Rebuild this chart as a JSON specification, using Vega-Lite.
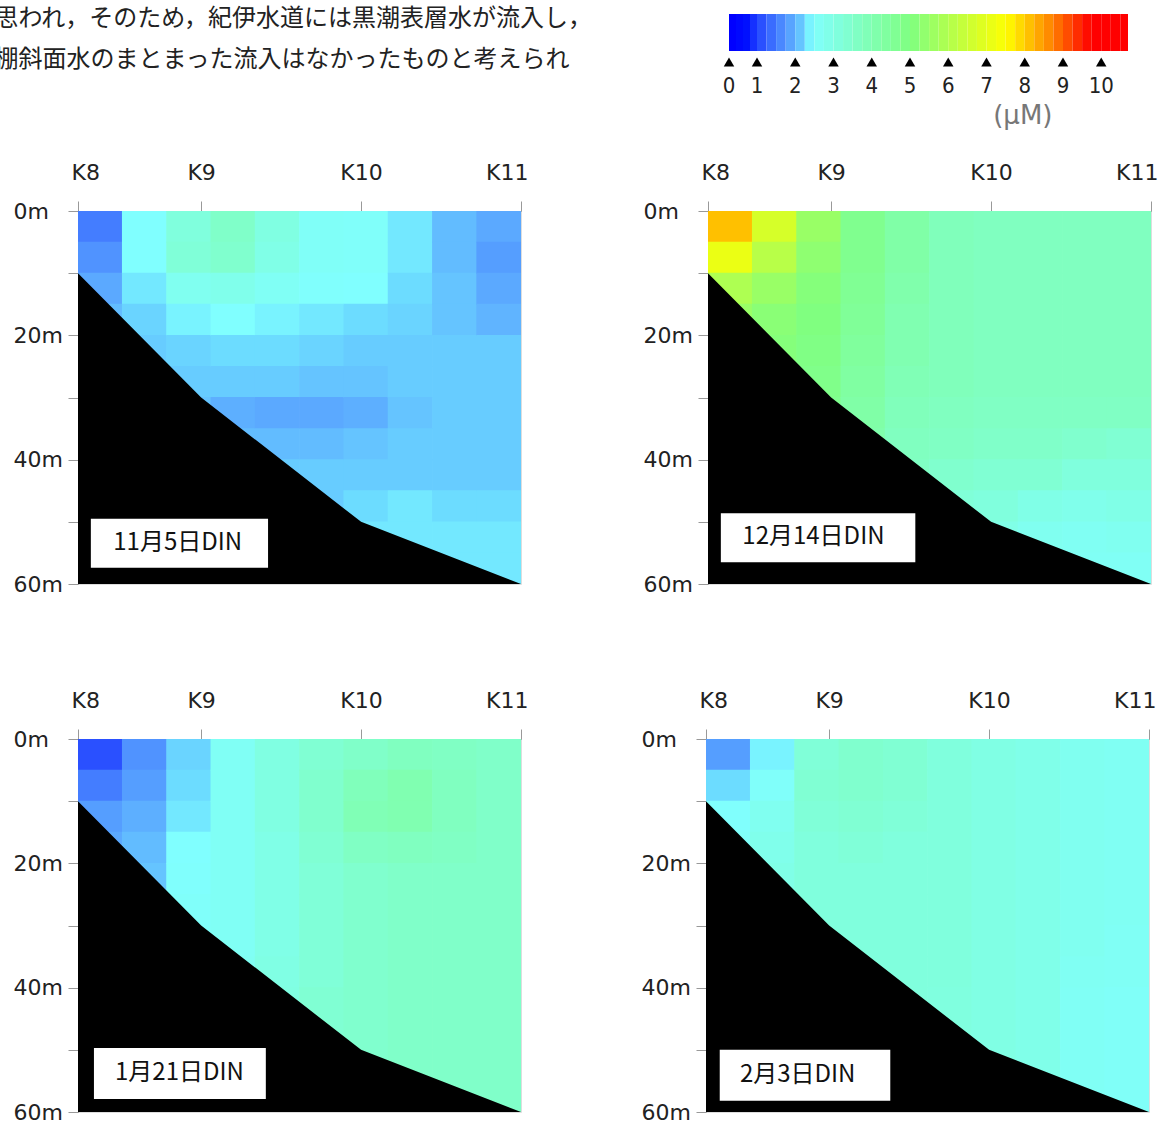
{
  "$schema": "https://vega.github.io/schema/vega-lite/v6.json",
  "padding": {"left": -6, "top": 6, "right": 0, "bottom": 0},
  "config": {
    "view": {"stroke": "#dddddd"},
    "axis": {"domainColor": "#999999", "tickColor": "#999999", "labelColor": "#222222", "labelFont": "DejaVu Sans", "labelFontSize": 22, "grid": false},
    "axisY": {"labelFontSize": 22}
  },
  "title": {
    "text": ["思われ，そのため，紀伊水道には黒潮表層水が流入し，", "棚斜面水のまとまった流入はなかったものと考えられ"],
    "anchor": "start", "frame": "bounds", "dx": -18, "baseline": "top",
    "font": "Noto Sans CJK JP", "fontSize": 24, "fontWeight": "normal", "color": "#222222",
    "lineHeight": 41, "offset": -66
  },
  "datasets": {
    "seabed": [{"x": 0, "d": 10}, {"x": 2.78, "d": 30}, {"x": 6.39, "d": 50}, {"x": 10, "d": 60}],
    "panels": [{"p": 1, "label": "11月5日DIN"}, {"p": 2, "label": "12月14日DIN"}, {"p": 3, "label": "1月21日DIN"}, {"p": 4, "label": "2月3日DIN"}],
    "ticks": [{"v": 0}, {"v": 1}, {"v": 2}, {"v": 3}, {"v": 4}, {"v": 5}, {"v": 6}, {"v": 7}, {"v": 8}, {"v": 9}, {"v": 10}],
    "grad": [
      {"a": 0, "b": 0.25}, {"a": 0.25, "b": 0.5}, {"a": 0.5, "b": 0.75}, {"a": 0.75, "b": 1}, {"a": 1, "b": 1.25}, {"a": 1.25, "b": 1.5}, {"a": 1.5, "b": 1.75}, {"a": 1.75, "b": 2}, {"a": 2, "b": 2.25}, {"a": 2.25, "b": 2.5}, {"a": 2.5, "b": 2.75}, {"a": 2.75, "b": 3}, {"a": 3, "b": 3.25}, {"a": 3.25, "b": 3.5}, {"a": 3.5, "b": 3.75}, {"a": 3.75, "b": 4}, {"a": 4, "b": 4.25}, {"a": 4.25, "b": 4.5}, {"a": 4.5, "b": 4.75}, {"a": 4.75, "b": 5}, {"a": 5, "b": 5.25}, {"a": 5.25, "b": 5.5}, {"a": 5.5, "b": 5.75}, {"a": 5.75, "b": 6}, {"a": 6, "b": 6.25}, {"a": 6.25, "b": 6.5}, {"a": 6.5, "b": 6.75}, {"a": 6.75, "b": 7}, {"a": 7, "b": 7.25}, {"a": 7.25, "b": 7.5}, {"a": 7.5, "b": 7.75}, {"a": 7.75, "b": 8}, {"a": 8, "b": 8.25}, {"a": 8.25, "b": 8.5}, {"a": 8.5, "b": 8.75}, {"a": 8.75, "b": 9}, {"a": 9, "b": 9.25}, {"a": 9.25, "b": 9.5}, {"a": 9.5, "b": 9.75}, {"a": 9.75, "b": 10}, {"a": 10, "b": 10.25}, {"a": 10.25, "b": 10.5}, {"a": 10.5, "b": 10.7}
    ],
    "cells": [
      {"p":1,"x":0.5,"d":2.5,"v":1.4},{"p":1,"x":0.5,"d":7.5,"v":1.6},{"p":1,"x":0.5,"d":12.5,"v":1.8},{"p":1,"x":0.5,"d":17.5,"v":1.95},
      {"p":1,"x":1.5,"d":2.5,"v":2.3},{"p":1,"x":1.5,"d":7.5,"v":2.3},{"p":1,"x":1.5,"d":12.5,"v":2.2},{"p":1,"x":1.5,"d":17.5,"v":2.1},{"p":1,"x":1.5,"d":22.5,"v":2.05},
      {"p":1,"x":2.5,"d":2.5,"v":3.0},{"p":1,"x":2.5,"d":7.5,"v":3.1},{"p":1,"x":2.5,"d":12.5,"v":2.6},{"p":1,"x":2.5,"d":17.5,"v":2.25},{"p":1,"x":2.5,"d":22.5,"v":2.1},{"p":1,"x":2.5,"d":27.5,"v":2.05},{"p":1,"x":2.5,"d":32.5,"v":2.0},
      {"p":1,"x":3.5,"d":2.5,"v":3.4},{"p":1,"x":3.5,"d":7.5,"v":3.3},{"p":1,"x":3.5,"d":12.5,"v":2.7},{"p":1,"x":3.5,"d":17.5,"v":2.3},{"p":1,"x":3.5,"d":22.5,"v":2.15},{"p":1,"x":3.5,"d":27.5,"v":2.05},{"p":1,"x":3.5,"d":32.5,"v":1.85},{"p":1,"x":3.5,"d":37.5,"v":1.95},
      {"p":1,"x":4.5,"d":2.5,"v":2.9},{"p":1,"x":4.5,"d":7.5,"v":2.8},{"p":1,"x":4.5,"d":12.5,"v":2.5},{"p":1,"x":4.5,"d":17.5,"v":2.25},{"p":1,"x":4.5,"d":22.5,"v":2.15},{"p":1,"x":4.5,"d":27.5,"v":2.05},{"p":1,"x":4.5,"d":32.5,"v":1.8},{"p":1,"x":4.5,"d":37.5,"v":1.95},{"p":1,"x":4.5,"d":42.5,"v":2.05},
      {"p":1,"x":5.5,"d":2.5,"v":2.45},{"p":1,"x":5.5,"d":7.5,"v":2.45},{"p":1,"x":5.5,"d":12.5,"v":2.35},{"p":1,"x":5.5,"d":17.5,"v":2.2},{"p":1,"x":5.5,"d":22.5,"v":2.1},{"p":1,"x":5.5,"d":27.5,"v":2.0},{"p":1,"x":5.5,"d":32.5,"v":1.8},{"p":1,"x":5.5,"d":37.5,"v":1.95},{"p":1,"x":5.5,"d":42.5,"v":2.05},{"p":1,"x":5.5,"d":47.5,"v":2.05},
      {"p":1,"x":6.5,"d":2.5,"v":2.4},{"p":1,"x":6.5,"d":7.5,"v":2.4},{"p":1,"x":6.5,"d":12.5,"v":2.3},{"p":1,"x":6.5,"d":17.5,"v":2.15},{"p":1,"x":6.5,"d":22.5,"v":2.05},{"p":1,"x":6.5,"d":27.5,"v":2.0},{"p":1,"x":6.5,"d":32.5,"v":1.85},{"p":1,"x":6.5,"d":37.5,"v":2.0},{"p":1,"x":6.5,"d":42.5,"v":2.05},{"p":1,"x":6.5,"d":47.5,"v":2.15},{"p":1,"x":6.5,"d":52.5,"v":2.2},
      {"p":1,"x":7.5,"d":2.5,"v":2.2},{"p":1,"x":7.5,"d":7.5,"v":2.2},{"p":1,"x":7.5,"d":12.5,"v":2.15},{"p":1,"x":7.5,"d":17.5,"v":2.1},{"p":1,"x":7.5,"d":22.5,"v":2.05},{"p":1,"x":7.5,"d":27.5,"v":2.05},{"p":1,"x":7.5,"d":32.5,"v":2.0},{"p":1,"x":7.5,"d":37.5,"v":2.05},{"p":1,"x":7.5,"d":42.5,"v":2.05},{"p":1,"x":7.5,"d":47.5,"v":2.2},{"p":1,"x":7.5,"d":52.5,"v":2.2},
      {"p":1,"x":8.5,"d":2.5,"v":1.95},{"p":1,"x":8.5,"d":7.5,"v":1.95},{"p":1,"x":8.5,"d":12.5,"v":2.0},{"p":1,"x":8.5,"d":17.5,"v":2.0},{"p":1,"x":8.5,"d":22.5,"v":2.05},{"p":1,"x":8.5,"d":27.5,"v":2.05},{"p":1,"x":8.5,"d":32.5,"v":2.05},{"p":1,"x":8.5,"d":37.5,"v":2.05},{"p":1,"x":8.5,"d":42.5,"v":2.05},{"p":1,"x":8.5,"d":47.5,"v":2.15},{"p":1,"x":8.5,"d":52.5,"v":2.2},{"p":1,"x":8.5,"d":57.5,"v":2.2},
      {"p":1,"x":9.5,"d":2.5,"v":1.8},{"p":1,"x":9.5,"d":7.5,"v":1.7},{"p":1,"x":9.5,"d":12.5,"v":1.8},{"p":1,"x":9.5,"d":17.5,"v":1.9},{"p":1,"x":9.5,"d":22.5,"v":2.05},{"p":1,"x":9.5,"d":27.5,"v":2.05},{"p":1,"x":9.5,"d":32.5,"v":2.05},{"p":1,"x":9.5,"d":37.5,"v":2.05},{"p":1,"x":9.5,"d":42.5,"v":2.05},{"p":1,"x":9.5,"d":47.5,"v":2.15},{"p":1,"x":9.5,"d":52.5,"v":2.2},{"p":1,"x":9.5,"d":57.5,"v":2.2},

      {"p":2,"x":0.5,"d":2.5,"v":8.0},{"p":2,"x":0.5,"d":7.5,"v":7.0},{"p":2,"x":0.5,"d":12.5,"v":5.8},{"p":2,"x":0.5,"d":17.5,"v":5.4},
      {"p":2,"x":1.5,"d":2.5,"v":6.6},{"p":2,"x":1.5,"d":7.5,"v":6.0},{"p":2,"x":1.5,"d":12.5,"v":5.4},{"p":2,"x":1.5,"d":17.5,"v":5.1},{"p":2,"x":1.5,"d":22.5,"v":5.0},
      {"p":2,"x":2.5,"d":2.5,"v":5.4},{"p":2,"x":2.5,"d":7.5,"v":5.2},{"p":2,"x":2.5,"d":12.5,"v":5.0},{"p":2,"x":2.5,"d":17.5,"v":4.9},{"p":2,"x":2.5,"d":22.5,"v":4.8},{"p":2,"x":2.5,"d":27.5,"v":4.7},{"p":2,"x":2.5,"d":32.5,"v":4.6},
      {"p":2,"x":3.5,"d":2.5,"v":4.6},{"p":2,"x":3.5,"d":7.5,"v":4.6},{"p":2,"x":3.5,"d":12.5,"v":4.5},{"p":2,"x":3.5,"d":17.5,"v":4.4},{"p":2,"x":3.5,"d":22.5,"v":4.3},{"p":2,"x":3.5,"d":27.5,"v":4.2},{"p":2,"x":3.5,"d":32.5,"v":4.1},{"p":2,"x":3.5,"d":37.5,"v":4.0},
      {"p":2,"x":4.5,"d":2.5,"v":4.1},{"p":2,"x":4.5,"d":7.5,"v":4.1},{"p":2,"x":4.5,"d":12.5,"v":4.0},{"p":2,"x":4.5,"d":17.5,"v":3.9},{"p":2,"x":4.5,"d":22.5,"v":3.9},{"p":2,"x":4.5,"d":27.5,"v":3.8},{"p":2,"x":4.5,"d":32.5,"v":3.7},{"p":2,"x":4.5,"d":37.5,"v":3.6},{"p":2,"x":4.5,"d":42.5,"v":3.5},
      {"p":2,"x":5.5,"d":2.5,"v":3.7},{"p":2,"x":5.5,"d":7.5,"v":3.7},{"p":2,"x":5.5,"d":12.5,"v":3.7},{"p":2,"x":5.5,"d":17.5,"v":3.7},{"p":2,"x":5.5,"d":22.5,"v":3.7},{"p":2,"x":5.5,"d":27.5,"v":3.7},{"p":2,"x":5.5,"d":32.5,"v":3.6},{"p":2,"x":5.5,"d":37.5,"v":3.5},{"p":2,"x":5.5,"d":42.5,"v":3.3},{"p":2,"x":5.5,"d":47.5,"v":3.1},
      {"p":2,"x":6.5,"d":2.5,"v":3.6},{"p":2,"x":6.5,"d":7.5,"v":3.6},{"p":2,"x":6.5,"d":12.5,"v":3.6},{"p":2,"x":6.5,"d":17.5,"v":3.6},{"p":2,"x":6.5,"d":22.5,"v":3.6},{"p":2,"x":6.5,"d":27.5,"v":3.6},{"p":2,"x":6.5,"d":32.5,"v":3.5},{"p":2,"x":6.5,"d":37.5,"v":3.4},{"p":2,"x":6.5,"d":42.5,"v":3.2},{"p":2,"x":6.5,"d":47.5,"v":3.0},{"p":2,"x":6.5,"d":52.5,"v":2.8},
      {"p":2,"x":7.5,"d":2.5,"v":3.6},{"p":2,"x":7.5,"d":7.5,"v":3.6},{"p":2,"x":7.5,"d":12.5,"v":3.6},{"p":2,"x":7.5,"d":17.5,"v":3.6},{"p":2,"x":7.5,"d":22.5,"v":3.6},{"p":2,"x":7.5,"d":27.5,"v":3.6},{"p":2,"x":7.5,"d":32.5,"v":3.5},{"p":2,"x":7.5,"d":37.5,"v":3.4},{"p":2,"x":7.5,"d":42.5,"v":3.2},{"p":2,"x":7.5,"d":47.5,"v":2.8},{"p":2,"x":7.5,"d":52.5,"v":2.6},
      {"p":2,"x":8.5,"d":2.5,"v":3.6},{"p":2,"x":8.5,"d":7.5,"v":3.6},{"p":2,"x":8.5,"d":12.5,"v":3.6},{"p":2,"x":8.5,"d":17.5,"v":3.6},{"p":2,"x":8.5,"d":22.5,"v":3.6},{"p":2,"x":8.5,"d":27.5,"v":3.6},{"p":2,"x":8.5,"d":32.5,"v":3.5},{"p":2,"x":8.5,"d":37.5,"v":3.3},{"p":2,"x":8.5,"d":42.5,"v":3.0},{"p":2,"x":8.5,"d":47.5,"v":2.7},{"p":2,"x":8.5,"d":52.5,"v":2.55},{"p":2,"x":8.5,"d":57.5,"v":2.5},
      {"p":2,"x":9.5,"d":2.5,"v":3.6},{"p":2,"x":9.5,"d":7.5,"v":3.6},{"p":2,"x":9.5,"d":12.5,"v":3.6},{"p":2,"x":9.5,"d":17.5,"v":3.6},{"p":2,"x":9.5,"d":22.5,"v":3.6},{"p":2,"x":9.5,"d":27.5,"v":3.6},{"p":2,"x":9.5,"d":32.5,"v":3.5},{"p":2,"x":9.5,"d":37.5,"v":3.2},{"p":2,"x":9.5,"d":42.5,"v":3.0},{"p":2,"x":9.5,"d":47.5,"v":2.8},{"p":2,"x":9.5,"d":52.5,"v":2.6},{"p":2,"x":9.5,"d":57.5,"v":2.5},

      {"p":3,"x":0.5,"d":2.5,"v":1.0},{"p":3,"x":0.5,"d":7.5,"v":1.4},{"p":3,"x":0.5,"d":12.5,"v":1.7},{"p":3,"x":0.5,"d":17.5,"v":1.8},
      {"p":3,"x":1.5,"d":2.5,"v":1.6},{"p":3,"x":1.5,"d":7.5,"v":1.7},{"p":3,"x":1.5,"d":12.5,"v":1.85},{"p":3,"x":1.5,"d":17.5,"v":1.95},{"p":3,"x":1.5,"d":22.5,"v":2.0},
      {"p":3,"x":2.5,"d":2.5,"v":2.1},{"p":3,"x":2.5,"d":7.5,"v":2.15},{"p":3,"x":2.5,"d":12.5,"v":2.2},{"p":3,"x":2.5,"d":17.5,"v":2.3},{"p":3,"x":2.5,"d":22.5,"v":2.35},{"p":3,"x":2.5,"d":27.5,"v":2.4},{"p":3,"x":2.5,"d":32.5,"v":2.4},
      {"p":3,"x":3.5,"d":2.5,"v":2.5},{"p":3,"x":3.5,"d":7.5,"v":2.5},{"p":3,"x":3.5,"d":12.5,"v":2.5},{"p":3,"x":3.5,"d":17.5,"v":2.5},{"p":3,"x":3.5,"d":22.5,"v":2.5},{"p":3,"x":3.5,"d":27.5,"v":2.5},{"p":3,"x":3.5,"d":32.5,"v":2.5},{"p":3,"x":3.5,"d":37.5,"v":2.55},
      {"p":3,"x":4.5,"d":2.5,"v":2.9},{"p":3,"x":4.5,"d":7.5,"v":2.9},{"p":3,"x":4.5,"d":12.5,"v":2.9},{"p":3,"x":4.5,"d":17.5,"v":2.8},{"p":3,"x":4.5,"d":22.5,"v":2.8},{"p":3,"x":4.5,"d":27.5,"v":2.8},{"p":3,"x":4.5,"d":32.5,"v":2.8},{"p":3,"x":4.5,"d":37.5,"v":2.85},{"p":3,"x":4.5,"d":42.5,"v":2.9},
      {"p":3,"x":5.5,"d":2.5,"v":3.2},{"p":3,"x":5.5,"d":7.5,"v":3.3},{"p":3,"x":5.5,"d":12.5,"v":3.3},{"p":3,"x":5.5,"d":17.5,"v":3.2},{"p":3,"x":5.5,"d":22.5,"v":3.1},{"p":3,"x":5.5,"d":27.5,"v":3.1},{"p":3,"x":5.5,"d":32.5,"v":3.1},{"p":3,"x":5.5,"d":37.5,"v":3.1},{"p":3,"x":5.5,"d":42.5,"v":3.2},{"p":3,"x":5.5,"d":47.5,"v":3.2},
      {"p":3,"x":6.5,"d":2.5,"v":3.4},{"p":3,"x":6.5,"d":7.5,"v":3.7},{"p":3,"x":6.5,"d":12.5,"v":3.8},{"p":3,"x":6.5,"d":17.5,"v":3.5},{"p":3,"x":6.5,"d":22.5,"v":3.3},{"p":3,"x":6.5,"d":27.5,"v":3.3},{"p":3,"x":6.5,"d":32.5,"v":3.3},{"p":3,"x":6.5,"d":37.5,"v":3.3},{"p":3,"x":6.5,"d":42.5,"v":3.3},{"p":3,"x":6.5,"d":47.5,"v":3.3},{"p":3,"x":6.5,"d":52.5,"v":3.3},
      {"p":3,"x":7.5,"d":2.5,"v":3.6},{"p":3,"x":7.5,"d":7.5,"v":3.9},{"p":3,"x":7.5,"d":12.5,"v":3.9},{"p":3,"x":7.5,"d":17.5,"v":3.6},{"p":3,"x":7.5,"d":22.5,"v":3.4},{"p":3,"x":7.5,"d":27.5,"v":3.4},{"p":3,"x":7.5,"d":32.5,"v":3.4},{"p":3,"x":7.5,"d":37.5,"v":3.4},{"p":3,"x":7.5,"d":42.5,"v":3.4},{"p":3,"x":7.5,"d":47.5,"v":3.4},{"p":3,"x":7.5,"d":52.5,"v":3.4},
      {"p":3,"x":8.5,"d":2.5,"v":3.5},{"p":3,"x":8.5,"d":7.5,"v":3.6},{"p":3,"x":8.5,"d":12.5,"v":3.6},{"p":3,"x":8.5,"d":17.5,"v":3.5},{"p":3,"x":8.5,"d":22.5,"v":3.4},{"p":3,"x":8.5,"d":27.5,"v":3.4},{"p":3,"x":8.5,"d":32.5,"v":3.4},{"p":3,"x":8.5,"d":37.5,"v":3.4},{"p":3,"x":8.5,"d":42.5,"v":3.4},{"p":3,"x":8.5,"d":47.5,"v":3.4},{"p":3,"x":8.5,"d":52.5,"v":3.4},{"p":3,"x":8.5,"d":57.5,"v":3.4},
      {"p":3,"x":9.5,"d":2.5,"v":3.4},{"p":3,"x":9.5,"d":7.5,"v":3.4},{"p":3,"x":9.5,"d":12.5,"v":3.4},{"p":3,"x":9.5,"d":17.5,"v":3.4},{"p":3,"x":9.5,"d":22.5,"v":3.4},{"p":3,"x":9.5,"d":27.5,"v":3.4},{"p":3,"x":9.5,"d":32.5,"v":3.4},{"p":3,"x":9.5,"d":37.5,"v":3.4},{"p":3,"x":9.5,"d":42.5,"v":3.4},{"p":3,"x":9.5,"d":47.5,"v":3.4},{"p":3,"x":9.5,"d":52.5,"v":3.4},{"p":3,"x":9.5,"d":57.5,"v":3.4},

      {"p":4,"x":0.5,"d":2.5,"v":1.7},{"p":4,"x":0.5,"d":7.5,"v":2.15},{"p":4,"x":0.5,"d":12.5,"v":2.35},{"p":4,"x":0.5,"d":17.5,"v":2.4},
      {"p":4,"x":1.5,"d":2.5,"v":2.25},{"p":4,"x":1.5,"d":7.5,"v":2.4},{"p":4,"x":1.5,"d":12.5,"v":2.6},{"p":4,"x":1.5,"d":17.5,"v":2.7},{"p":4,"x":1.5,"d":22.5,"v":2.8},
      {"p":4,"x":2.5,"d":2.5,"v":3.1},{"p":4,"x":2.5,"d":7.5,"v":3.2},{"p":4,"x":2.5,"d":12.5,"v":3.1},{"p":4,"x":2.5,"d":17.5,"v":3.0},{"p":4,"x":2.5,"d":22.5,"v":3.0},{"p":4,"x":2.5,"d":27.5,"v":3.0},{"p":4,"x":2.5,"d":32.5,"v":3.0},
      {"p":4,"x":3.5,"d":2.5,"v":3.3},{"p":4,"x":3.5,"d":7.5,"v":3.3},{"p":4,"x":3.5,"d":12.5,"v":3.2},{"p":4,"x":3.5,"d":17.5,"v":3.1},{"p":4,"x":3.5,"d":22.5,"v":3.0},{"p":4,"x":3.5,"d":27.5,"v":3.0},{"p":4,"x":3.5,"d":32.5,"v":3.0},{"p":4,"x":3.5,"d":37.5,"v":3.0},
      {"p":4,"x":4.5,"d":2.5,"v":3.2},{"p":4,"x":4.5,"d":7.5,"v":3.2},{"p":4,"x":4.5,"d":12.5,"v":3.1},{"p":4,"x":4.5,"d":17.5,"v":3.0},{"p":4,"x":4.5,"d":22.5,"v":3.0},{"p":4,"x":4.5,"d":27.5,"v":3.0},{"p":4,"x":4.5,"d":32.5,"v":3.0},{"p":4,"x":4.5,"d":37.5,"v":3.0},{"p":4,"x":4.5,"d":42.5,"v":3.0},
      {"p":4,"x":5.5,"d":2.5,"v":3.0},{"p":4,"x":5.5,"d":7.5,"v":3.0},{"p":4,"x":5.5,"d":12.5,"v":3.0},{"p":4,"x":5.5,"d":17.5,"v":3.0},{"p":4,"x":5.5,"d":22.5,"v":3.0},{"p":4,"x":5.5,"d":27.5,"v":3.0},{"p":4,"x":5.5,"d":32.5,"v":3.0},{"p":4,"x":5.5,"d":37.5,"v":3.0},{"p":4,"x":5.5,"d":42.5,"v":2.95},{"p":4,"x":5.5,"d":47.5,"v":2.95},
      {"p":4,"x":6.5,"d":2.5,"v":2.85},{"p":4,"x":6.5,"d":7.5,"v":2.85},{"p":4,"x":6.5,"d":12.5,"v":2.85},{"p":4,"x":6.5,"d":17.5,"v":2.85},{"p":4,"x":6.5,"d":22.5,"v":2.85},{"p":4,"x":6.5,"d":27.5,"v":2.85},{"p":4,"x":6.5,"d":32.5,"v":2.85},{"p":4,"x":6.5,"d":37.5,"v":2.85},{"p":4,"x":6.5,"d":42.5,"v":2.85},{"p":4,"x":6.5,"d":47.5,"v":2.85},{"p":4,"x":6.5,"d":52.5,"v":2.85},
      {"p":4,"x":7.5,"d":2.5,"v":2.75},{"p":4,"x":7.5,"d":7.5,"v":2.75},{"p":4,"x":7.5,"d":12.5,"v":2.75},{"p":4,"x":7.5,"d":17.5,"v":2.75},{"p":4,"x":7.5,"d":22.5,"v":2.75},{"p":4,"x":7.5,"d":27.5,"v":2.75},{"p":4,"x":7.5,"d":32.5,"v":2.75},{"p":4,"x":7.5,"d":37.5,"v":2.75},{"p":4,"x":7.5,"d":42.5,"v":2.75},{"p":4,"x":7.5,"d":47.5,"v":2.75},{"p":4,"x":7.5,"d":52.5,"v":2.75},
      {"p":4,"x":8.5,"d":2.5,"v":2.6},{"p":4,"x":8.5,"d":7.5,"v":2.6},{"p":4,"x":8.5,"d":12.5,"v":2.6},{"p":4,"x":8.5,"d":17.5,"v":2.6},{"p":4,"x":8.5,"d":22.5,"v":2.6},{"p":4,"x":8.5,"d":27.5,"v":2.6},{"p":4,"x":8.5,"d":32.5,"v":2.6},{"p":4,"x":8.5,"d":37.5,"v":2.55},{"p":4,"x":8.5,"d":42.5,"v":2.5},{"p":4,"x":8.5,"d":47.5,"v":2.5},{"p":4,"x":8.5,"d":52.5,"v":2.5},{"p":4,"x":8.5,"d":57.5,"v":2.5},
      {"p":4,"x":9.5,"d":2.5,"v":2.55},{"p":4,"x":9.5,"d":7.5,"v":2.55},{"p":4,"x":9.5,"d":12.5,"v":2.55},{"p":4,"x":9.5,"d":17.5,"v":2.55},{"p":4,"x":9.5,"d":22.5,"v":2.55},{"p":4,"x":9.5,"d":27.5,"v":2.55},{"p":4,"x":9.5,"d":32.5,"v":2.5},{"p":4,"x":9.5,"d":37.5,"v":2.5},{"p":4,"x":9.5,"d":42.5,"v":2.45},{"p":4,"x":9.5,"d":47.5,"v":2.45},{"p":4,"x":9.5,"d":52.5,"v":2.45},{"p":4,"x":9.5,"d":57.5,"v":2.45}
    ]
  },
  "spacing": 29,
  "vconcat": [
    {
      "width": 1062, "height": 125,
      "view": {"stroke": null},
      "layer": [
        {"data": {"name": "grad"}, "mark": {"type": "rect"},
         "encoding": {
           "x": {"field": "a", "type": "quantitative", "scale": {"domain": [0, 1, 10.7], "range": [651, 679, 1050], "nice": false, "zero": false}, "axis": null},
           "x2": {"field": "b"},
           "y": {"datum": 0.8, "type": "quantitative", "scale": {"domain": [0, 12.5], "reverse": true, "nice": false, "zero": false}, "axis": null},
           "y2": {"datum": 4.5},
           "color": {"field": "a", "type": "quantitative", "legend": null,
                     "scale": {"type": "linear", "domain": [0, 0.5, 1, 1.5, 1.9, 2.15, 2.3, 4.9, 7.4, 8.6, 9.6, 10.7], "range": ["#0000ff", "#0010ff", "#2a50ff", "#4a88ff", "#60b4ff", "#6cdcff", "#80ffff", "#80ff80", "#ffff00", "#ff8000", "#ff0000", "#ff0000"], "interpolate": "rgb"}}
         }},
        {"data": {"name": "ticks"}, "mark": {"type": "point", "shape": "triangle-up", "filled": true, "color": "#000000", "opacity": 1, "size": 110},
         "encoding": {"x": {"field": "v", "type": "quantitative", "axis": null}, "y": {"datum": 5.6, "type": "quantitative", "axis": null}}},
        {"data": {"name": "ticks"}, "mark": {"type": "text", "font": "Liberation Sans Narrow, DejaVu Sans Condensed, sans-serif", "fontSize": 22, "color": "#222222"},
         "encoding": {"x": {"field": "v", "type": "quantitative", "axis": null}, "y": {"datum": 8.0, "type": "quantitative", "axis": null}, "text": {"field": "v", "type": "quantitative"}}},
        {"data": {"name": "panels"}, "transform": [{"filter": "datum.p == 1"}], "mark": {"type": "text", "font": "DejaVu Sans", "fontSize": 26, "color": "#777777"},
         "encoding": {"x": {"datum": 7.95, "type": "quantitative", "axis": null}, "y": {"datum": 11.0, "type": "quantitative", "axis": null}, "text": {"value": "(μM)"}}}
      ]
    },
    {
      "spacing": 92,
      "vconcat": [
        {
          "spacing": 113,
          "hconcat": [
            {
              "width": 443, "height": 373,
              "layer": [
                {"data": {"name": "cells"}, "transform": [{"filter": "datum.p == 1"}],
                 "mark": {"type": "rect", "width": 45, "height": 32, "clip": true},
                 "encoding": {
                   "x": {"field": "x", "type": "quantitative", "scale": {"domain": [0, 10], "nice": false, "zero": false},
                         "axis": {"orient": "top", "values": [0, 2.78, 6.39, 10], "labelExpr": "datum.value == 0 ? 'K8' : datum.value < 3 ? 'K9' : datum.value < 7 ? 'K10' : 'K11'", "title": null, "tickSize": 10, "labelPadding": 17, "labelFlush": true, "labelFlushOffset": 7, "labelOverlap": false}},
                   "y": {"field": "d", "type": "quantitative", "scale": {"domain": [0, 60], "nice": false, "zero": false, "reverse": true},
                         "axis": {"values": [0, 10, 20, 30, 40, 50, 60], "labelExpr": "datum.value % 20 == 0 ? datum.value + 'm' : ''", "title": null, "tickSize": 10, "labelAlign": "left", "labelPadding": 55, "labelOverlap": false, "labelFlush": false}},
                   "color": {"field": "v", "type": "quantitative", "legend": null,
                             "scale": {"type": "linear", "domain": [0, 0.5, 1, 1.5, 1.9, 2.15, 2.3, 4.9, 7.4, 8.6, 9.6, 10.7], "range": ["#0000ff", "#0010ff", "#2a50ff", "#4a88ff", "#60b4ff", "#6cdcff", "#80ffff", "#80ff80", "#ffff00", "#ff8000", "#ff0000", "#ff0000"], "interpolate": "rgb"}}
                 }},
                {"data": {"name": "seabed"}, "mark": {"type": "area", "color": "#000000"},
                 "encoding": {"x": {"field": "x", "type": "quantitative"}, "y": {"field": "d", "type": "quantitative"}, "y2": {"datum": 60}}},
                {"data": {"name": "panels"}, "transform": [{"filter": "datum.p == 1"}], "mark": {"type": "rect", "color": "#ffffff"},
                 "encoding": {"x": {"datum": 0.29, "type": "quantitative"}, "x2": {"datum": 4.29}, "y": {"datum": 49.5, "type": "quantitative"}, "y2": {"datum": 57.4}}},
                {"data": {"name": "panels"}, "transform": [{"filter": "datum.p == 1"}], "mark": {"type": "text", "font": "Noto Sans CJK JP", "fontSize": 24, "color": "#111111"},
                 "encoding": {"x": {"datum": 2.25, "type": "quantitative"}, "y": {"datum": 53.4, "type": "quantitative"}, "text": {"field": "label"}}}
              ]
            },
            {
              "width": 443, "height": 373,
              "layer": [
                {"data": {"name": "cells"}, "transform": [{"filter": "datum.p == 2"}],
                 "mark": {"type": "rect", "width": 45, "height": 32, "clip": true},
                 "encoding": {
                   "x": {"field": "x", "type": "quantitative", "scale": {"domain": [0, 10], "nice": false, "zero": false},
                         "axis": {"orient": "top", "values": [0, 2.78, 6.39, 10], "labelExpr": "datum.value == 0 ? 'K8' : datum.value < 3 ? 'K9' : datum.value < 7 ? 'K10' : 'K11'", "title": null, "tickSize": 10, "labelPadding": 17, "labelFlush": true, "labelFlushOffset": 7, "labelOverlap": false}},
                   "y": {"field": "d", "type": "quantitative", "scale": {"domain": [0, 60], "nice": false, "zero": false, "reverse": true},
                         "axis": {"values": [0, 10, 20, 30, 40, 50, 60], "labelExpr": "datum.value % 20 == 0 ? datum.value + 'm' : ''", "title": null, "tickSize": 10, "labelAlign": "left", "labelPadding": 55, "labelOverlap": false, "labelFlush": false}},
                   "color": {"field": "v", "type": "quantitative", "legend": null,
                             "scale": {"type": "linear", "domain": [0, 0.5, 1, 1.5, 1.9, 2.15, 2.3, 4.9, 7.4, 8.6, 9.6, 10.7], "range": ["#0000ff", "#0010ff", "#2a50ff", "#4a88ff", "#60b4ff", "#6cdcff", "#80ffff", "#80ff80", "#ffff00", "#ff8000", "#ff0000", "#ff0000"], "interpolate": "rgb"}}
                 }},
                {"data": {"name": "seabed"}, "mark": {"type": "area", "color": "#000000"},
                 "encoding": {"x": {"field": "x", "type": "quantitative"}, "y": {"field": "d", "type": "quantitative"}, "y2": {"datum": 60}}},
                {"data": {"name": "panels"}, "transform": [{"filter": "datum.p == 2"}], "mark": {"type": "rect", "color": "#ffffff"},
                 "encoding": {"x": {"datum": 0.29, "type": "quantitative"}, "x2": {"datum": 4.68}, "y": {"datum": 48.6, "type": "quantitative"}, "y2": {"datum": 56.5}}},
                {"data": {"name": "panels"}, "transform": [{"filter": "datum.p == 2"}], "mark": {"type": "text", "font": "Noto Sans CJK JP", "fontSize": 24, "color": "#111111"},
                 "encoding": {"x": {"datum": 2.38, "type": "quantitative"}, "y": {"datum": 52.5, "type": "quantitative"}, "text": {"field": "label"}}}
              ]
            }
          ]
        },
        {
          "spacing": 111,
          "hconcat": [
            {
              "width": 443, "height": 373,
              "layer": [
                {"data": {"name": "cells"}, "transform": [{"filter": "datum.p == 3"}],
                 "mark": {"type": "rect", "width": 45, "height": 32, "clip": true},
                 "encoding": {
                   "x": {"field": "x", "type": "quantitative", "scale": {"domain": [0, 10], "nice": false, "zero": false},
                         "axis": {"orient": "top", "values": [0, 2.78, 6.39, 10], "labelExpr": "datum.value == 0 ? 'K8' : datum.value < 3 ? 'K9' : datum.value < 7 ? 'K10' : 'K11'", "title": null, "tickSize": 10, "labelPadding": 17, "labelFlush": true, "labelFlushOffset": 7, "labelOverlap": false}},
                   "y": {"field": "d", "type": "quantitative", "scale": {"domain": [0, 60], "nice": false, "zero": false, "reverse": true},
                         "axis": {"values": [0, 10, 20, 30, 40, 50, 60], "labelExpr": "datum.value % 20 == 0 ? datum.value + 'm' : ''", "title": null, "tickSize": 10, "labelAlign": "left", "labelPadding": 55, "labelOverlap": false, "labelFlush": false}},
                   "color": {"field": "v", "type": "quantitative", "legend": null,
                             "scale": {"type": "linear", "domain": [0, 0.5, 1, 1.5, 1.9, 2.15, 2.3, 4.9, 7.4, 8.6, 9.6, 10.7], "range": ["#0000ff", "#0010ff", "#2a50ff", "#4a88ff", "#60b4ff", "#6cdcff", "#80ffff", "#80ff80", "#ffff00", "#ff8000", "#ff0000", "#ff0000"], "interpolate": "rgb"}}
                 }},
                {"data": {"name": "seabed"}, "mark": {"type": "area", "color": "#000000"},
                 "encoding": {"x": {"field": "x", "type": "quantitative"}, "y": {"field": "d", "type": "quantitative"}, "y2": {"datum": 60}}},
                {"data": {"name": "panels"}, "transform": [{"filter": "datum.p == 3"}], "mark": {"type": "rect", "color": "#ffffff"},
                 "encoding": {"x": {"datum": 0.36, "type": "quantitative"}, "x2": {"datum": 4.24}, "y": {"datum": 49.7, "type": "quantitative"}, "y2": {"datum": 57.9}}},
                {"data": {"name": "panels"}, "transform": [{"filter": "datum.p == 3"}], "mark": {"type": "text", "font": "Noto Sans CJK JP", "fontSize": 24, "color": "#111111"},
                 "encoding": {"x": {"datum": 2.29, "type": "quantitative"}, "y": {"datum": 53.8, "type": "quantitative"}, "text": {"field": "label"}}}
              ]
            },
            {
              "width": 443, "height": 373,
              "layer": [
                {"data": {"name": "cells"}, "transform": [{"filter": "datum.p == 4"}],
                 "mark": {"type": "rect", "width": 45, "height": 32, "clip": true},
                 "encoding": {
                   "x": {"field": "x", "type": "quantitative", "scale": {"domain": [0, 10], "nice": false, "zero": false},
                         "axis": {"orient": "top", "values": [0, 2.78, 6.39, 10], "labelExpr": "datum.value == 0 ? 'K8' : datum.value < 3 ? 'K9' : datum.value < 7 ? 'K10' : 'K11'", "title": null, "tickSize": 10, "labelPadding": 17, "labelFlush": true, "labelFlushOffset": 7, "labelOverlap": false}},
                   "y": {"field": "d", "type": "quantitative", "scale": {"domain": [0, 60], "nice": false, "zero": false, "reverse": true},
                         "axis": {"values": [0, 10, 20, 30, 40, 50, 60], "labelExpr": "datum.value % 20 == 0 ? datum.value + 'm' : ''", "title": null, "tickSize": 10, "labelAlign": "left", "labelPadding": 55, "labelOverlap": false, "labelFlush": false}},
                   "color": {"field": "v", "type": "quantitative", "legend": null,
                             "scale": {"type": "linear", "domain": [0, 0.5, 1, 1.5, 1.9, 2.15, 2.3, 4.9, 7.4, 8.6, 9.6, 10.7], "range": ["#0000ff", "#0010ff", "#2a50ff", "#4a88ff", "#60b4ff", "#6cdcff", "#80ffff", "#80ff80", "#ffff00", "#ff8000", "#ff0000", "#ff0000"], "interpolate": "rgb"}}
                 }},
                {"data": {"name": "seabed"}, "mark": {"type": "area", "color": "#000000"},
                 "encoding": {"x": {"field": "x", "type": "quantitative"}, "y": {"field": "d", "type": "quantitative"}, "y2": {"datum": 60}}},
                {"data": {"name": "panels"}, "transform": [{"filter": "datum.p == 4"}], "mark": {"type": "rect", "color": "#ffffff"},
                 "encoding": {"x": {"datum": 0.31, "type": "quantitative"}, "x2": {"datum": 4.16}, "y": {"datum": 50.0, "type": "quantitative"}, "y2": {"datum": 58.2}}},
                {"data": {"name": "panels"}, "transform": [{"filter": "datum.p == 4"}], "mark": {"type": "text", "font": "Noto Sans CJK JP", "fontSize": 24, "color": "#111111"},
                 "encoding": {"x": {"datum": 2.07, "type": "quantitative"}, "y": {"datum": 54.1, "type": "quantitative"}, "text": {"field": "label"}}}
              ]
            }
          ]
        }
      ]
    }
  ]
}
